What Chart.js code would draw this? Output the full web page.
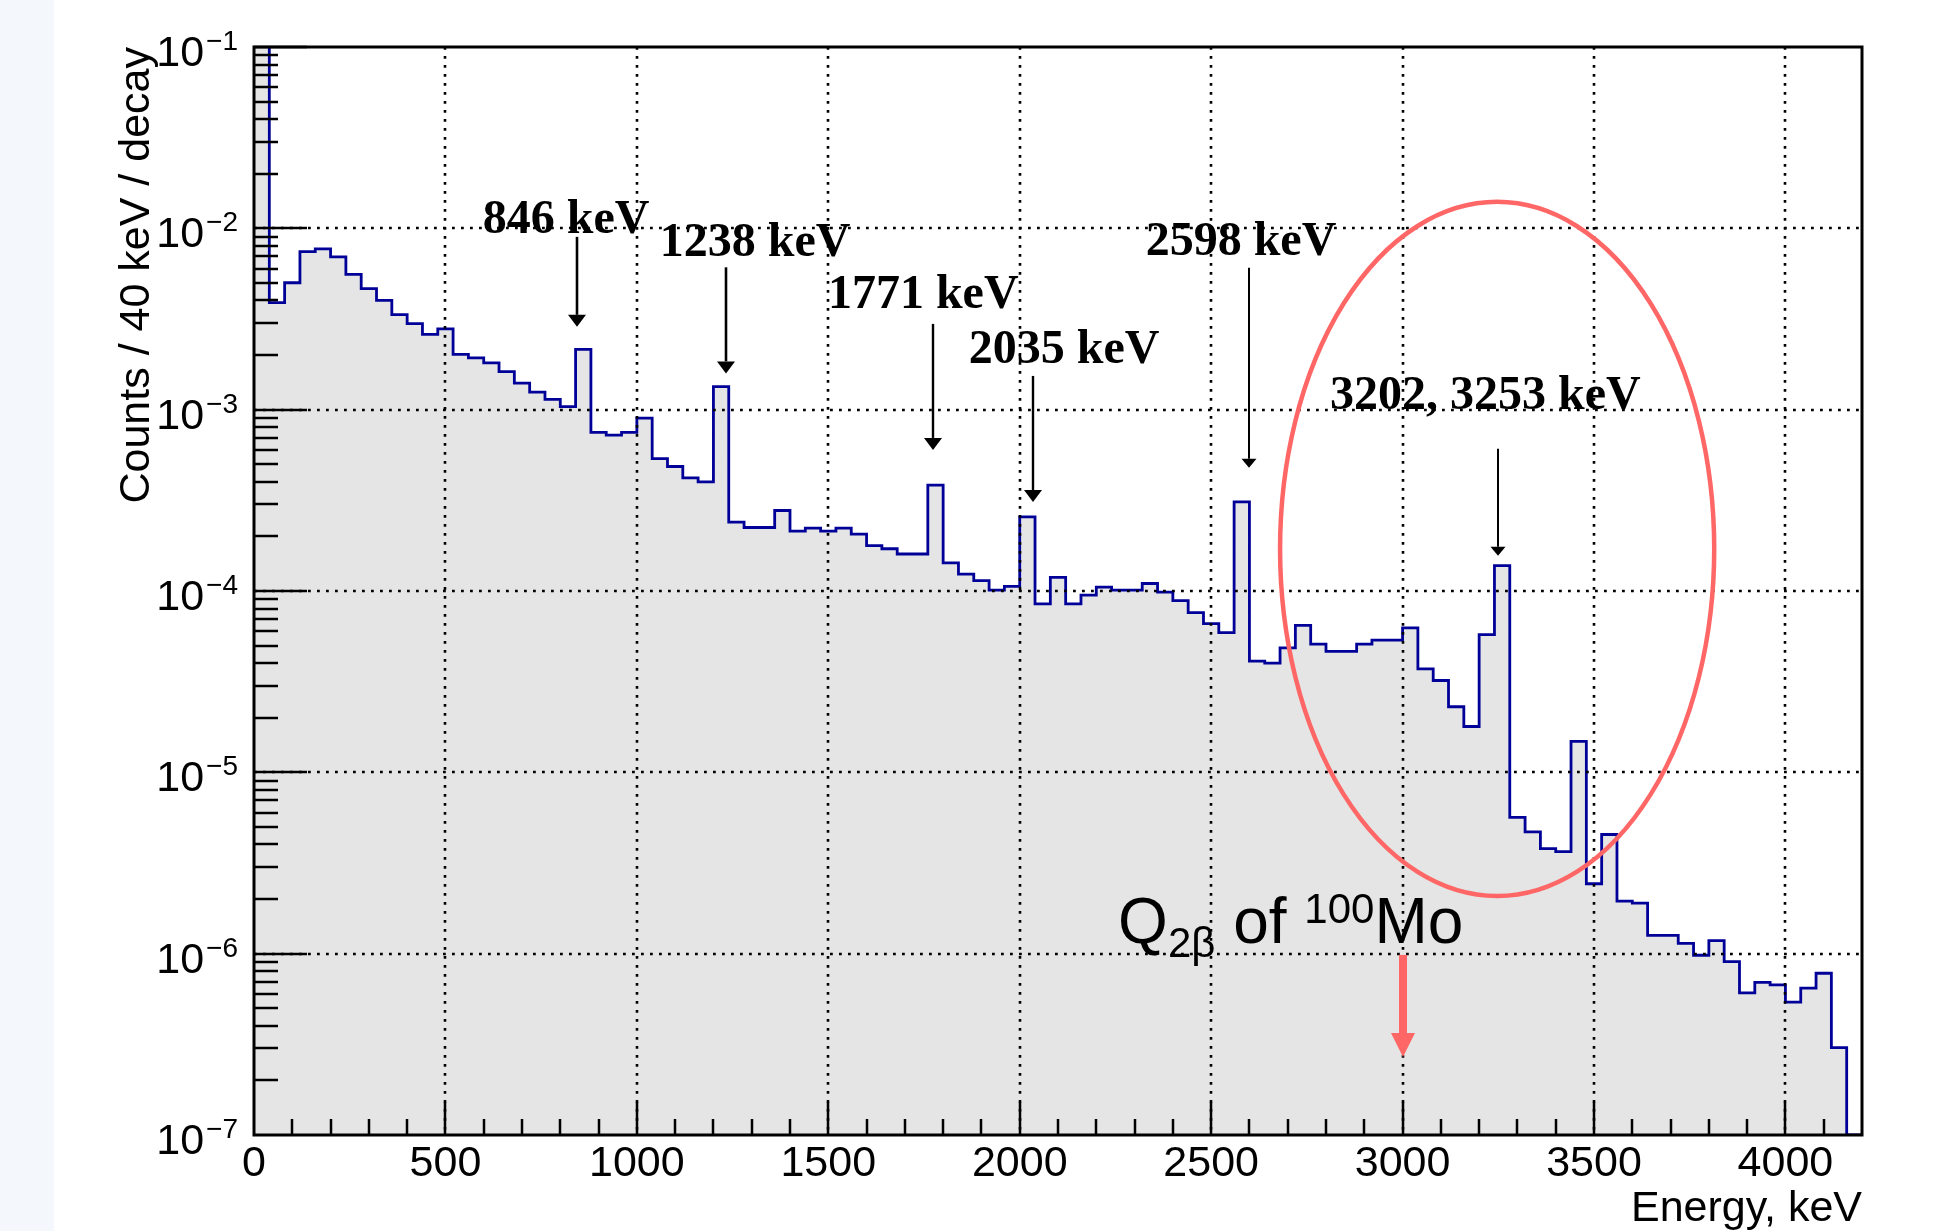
<!DOCTYPE html>
<html>
<head>
<meta charset="utf-8">
<title>100Mo background spectrum</title>
<script src="https://cdn.jsdelivr.net/npm/chart.js@4/dist/chart.umd.min.js"></script>
<style>
  html, body { margin: 0; padding: 0; }
  body {
    width: 1943px;
    height: 1231px;
    overflow: hidden;
    background: linear-gradient(to right, #f4f7fb 0, #f4f7fb 54px, #ffffff 54px);
  }
</style>
</head>
<body>
<canvas id="spectrumChart" width="1943" height="1231"></canvas>
<script>
// ==========================
// Spectrum data (counts / 40 keV / decay)
// ==========================

const binWidth = 40;

// one value per 40 keV bin, starting at 0 keV
const counts = [
    0.15,
    3.89e-3, 5.01e-3, 7.44e-3, 7.70e-3, 6.96e-3, 5.57e-3, 4.65e-3, 4.01e-3, 3.34e-3, 2.98e-3,
    2.60e-3, 2.79e-3, 2.02e-3, 1.93e-3, 1.81e-3, 1.62e-3, 1.40e-3, 1.25e-3, 1.14e-3, 1.04e-3,
    2.15e-3, 7.49e-4, 7.24e-4, 7.49e-4, 8.98e-4, 5.37e-4, 4.86e-4, 4.21e-4, 4.00e-4, 1.34e-3,
    2.40e-4, 2.24e-4, 2.24e-4, 2.78e-4, 2.14e-4, 2.22e-4, 2.14e-4, 2.22e-4, 2.06e-4, 1.78e-4,
    1.71e-4, 1.60e-4, 1.60e-4, 3.84e-4, 1.43e-4, 1.24e-4, 1.14e-4, 1.01e-4, 1.06e-4, 2.56e-4,
    8.49e-5, 1.19e-4, 8.49e-5, 9.48e-5, 1.05e-4, 1.01e-4, 1.01e-4, 1.10e-4, 9.87e-5, 8.85e-5,
    7.60e-5, 6.60e-5, 5.90e-5, 3.10e-4, 4.10e-5, 4.00e-5, 4.86e-5, 6.47e-5, 5.09e-5, 4.65e-5,
    4.65e-5, 5.09e-5, 5.36e-5, 5.36e-5, 6.26e-5, 3.72e-5, 3.21e-5, 2.30e-5, 1.79e-5, 5.75e-5,
    1.38e-4, 5.65e-6, 4.70e-6, 3.80e-6, 3.65e-6, 1.48e-5, 2.43e-6, 4.54e-6, 1.95e-6, 1.90e-6,
    1.26e-6, 1.26e-6, 1.14e-6, 9.80e-7, 1.18e-6, 9.05e-7, 6.08e-7, 6.95e-7, 6.73e-7, 5.41e-7,
    6.45e-7, 7.80e-7, 3.03e-7, 0
];

// axis ticks
const xTickValues = [0, 500, 1000, 1500, 2000, 2500, 3000, 3500, 4000];
const yDecades = [-7, -6, -5, -4, -3, -2, -1];

// gamma line annotations
const peakLabels = ["846 keV", "1238 keV", "1771 keV", "2035 keV", "2598 keV", "3202, 3253 keV"];
const peakEnergies = [844, 1233, 1774, 2035, 2598, 3249];

// ==========================
// Annotation placement (keV, log10 of counts)
// ==========================

const labelPos = [
    { x: 815, y: -2.025, from: -2.047, to: -2.543, head: [18, 12], lw: 2.6 },
    { x: 1309, y: -2.150, from: -2.215, to: -2.800, head: [18, 12], lw: 2.6 },
    { x: 1748, y: -2.439, from: -2.527, to: -3.222, head: [18, 12], lw: 2.4 },
    { x: 2116, y: -2.742, from: -2.814, to: -3.509, head: [18, 12], lw: 2.4 },
    { x: 2578, y: -2.146, from: -2.218, to: -3.321, head: [15, 9], lw: 2 },
    { x: 3216, y: -2.996, from: -3.216, to: -3.806, head: [15, 9], lw: 2 }
];

const circleBox = { left: 2680, right: 3814, top: -1.854, bottom: -5.682 };
const qText = { x: 2257, y: -5.941 };
const qArrow = { x: 3000, from: -6.007, to: -6.570 };

const sans = "'Liberation Sans', Arial, Helvetica, sans-serif";
const serif = "'Liberation Serif', 'Times New Roman', serif";
const red = "#ff6666";
const yMin = 1e-7;
const yMax = 1e-1;
const xMax = 4200;

const points = counts.map((c, k) => ({ x: k * binWidth, y: c > 0 ? c : yMin }));
points.push({ x: counts.length * binWidth, y: yMin });

// ==========================
// ROOT-like frame, ticks, grid and annotations
// ==========================

const rootStyle = {

    id: "rootStyle",

    afterDatasetsDraw(chart) {

        const { ctx, chartArea: a, scales: { x, y } } = chart;

        ctx.save();

        // dotted grid on top of the fill
        ctx.strokeStyle = "#000";
        ctx.lineWidth = 2.6;
        ctx.setLineDash([2.8, 6.2]);
        ctx.beginPath();
        xTickValues.forEach(v => {
            if (v <= 0 || v >= xMax) return;
            const px = Math.round(x.getPixelForValue(v));
            ctx.moveTo(px, a.top);
            ctx.lineTo(px, a.bottom);
        });
        yDecades.forEach(e => {
            const v = Math.pow(10, e);
            if (v <= yMin || v >= yMax) return;
            const py = Math.round(y.getPixelForValue(v));
            ctx.moveTo(a.left, py);
            ctx.lineTo(a.right, py);
        });
        ctx.stroke();

        // frame
        ctx.setLineDash([]);
        ctx.lineWidth = 3;
        ctx.strokeRect(a.left, a.top, a.right - a.left, a.bottom - a.top);

        // tick marks, inside the frame
        ctx.lineWidth = 2.5;
        ctx.beginPath();
        for (let v = 100; v < xMax; v += 100) {
            const px = Math.round(x.getPixelForValue(v));
            const len = v % 500 === 0 ? 33 : 16;
            ctx.moveTo(px, a.bottom);
            ctx.lineTo(px, a.bottom - len);
        }
        yDecades.forEach(e => {
            for (let m = 1; m <= 9; m++) {
                const v = m * Math.pow(10, e);
                if (v <= yMin * 1.0001 || v > yMax * 1.0001) continue;
                const py = Math.round(y.getPixelForValue(v));
                const len = m === 1 ? 53 : 24;
                ctx.moveTo(a.left, py);
                ctx.lineTo(a.left + len, py);
            }
        });
        ctx.stroke();

        // y tick labels 10^n
        ctx.fillStyle = "#000";
        ctx.textBaseline = "alphabetic";
        const right = a.left - 16;
        yDecades.forEach(e => {
            const py = y.getPixelForValue(Math.pow(10, e));
            const exp = "\u2212" + Math.abs(e);
            ctx.font = "28px " + sans;
            const ew = ctx.measureText(exp).width;
            ctx.textAlign = "left";
            ctx.fillText(exp, right - ew, py + 3);
            ctx.font = "43px " + sans;
            ctx.textAlign = "right";
            ctx.fillText("10", right - ew - 2, py + 19);
        });

        ctx.restore();

    },

    afterDraw(chart) {

        const { ctx, scales: { x, y } } = chart;
        const ly = v => y.getPixelForValue(Math.pow(10, v));

        ctx.save();
        ctx.fillStyle = "#000";
        ctx.strokeStyle = "#000";

        // peak labels with arrows
        peakLabels.forEach((text, i) => {
            const p = labelPos[i];
            ctx.font = "bold 48px " + serif;
            ctx.textAlign = "center";
            ctx.textBaseline = "alphabetic";
            ctx.fillText(text, x.getPixelForValue(p.x), ly(p.y));

            const ax = Math.round(x.getPixelForValue(peakEnergies[i]));
            const top = ly(p.from);
            const tip = ly(p.to);
            const [hw, hh] = p.head;
            ctx.lineWidth = p.lw;
            ctx.beginPath();
            ctx.moveTo(ax, top);
            ctx.lineTo(ax, tip - hh);
            ctx.stroke();
            ctx.beginPath();
            ctx.moveTo(ax - hw / 2, tip - hh);
            ctx.lineTo(ax + hw / 2, tip - hh);
            ctx.lineTo(ax, tip);
            ctx.closePath();
            ctx.fill();
        });

        // red ellipse round the high energy region
        const l = x.getPixelForValue(circleBox.left);
        const r = x.getPixelForValue(circleBox.right);
        const t = ly(circleBox.top);
        const b = ly(circleBox.bottom);
        ctx.strokeStyle = red;
        ctx.lineWidth = 4.5;
        ctx.beginPath();
        ctx.ellipse((l + r) / 2, (t + b) / 2, (r - l) / 2, (b - t) / 2, 0, 0, Math.PI * 2);
        ctx.stroke();

        // Q value text
        let qx = x.getPixelForValue(qText.x);
        const qy = ly(qText.y);
        ctx.fillStyle = "#000";
        ctx.textAlign = "left";
        ctx.font = "64px " + sans;
        ctx.fillText("Q", qx, qy);
        qx += ctx.measureText("Q").width;
        ctx.font = "42px " + sans;
        ctx.fillText("2\u03b2", qx, qy + 14);
        qx += ctx.measureText("2\u03b2").width;
        ctx.font = "64px " + sans;
        ctx.fillText(" of ", qx, qy);
        qx += ctx.measureText(" of ").width;
        ctx.font = "42px " + sans;
        ctx.fillText("100", qx, qy - 20);
        qx += ctx.measureText("100").width;
        ctx.font = "64px " + sans;
        ctx.fillText("Mo", qx, qy);

        // red Q arrow
        const rx = Math.round(x.getPixelForValue(qArrow.x));
        const rTop = ly(qArrow.from);
        const rTip = ly(qArrow.to);
        ctx.fillStyle = red;
        ctx.fillRect(rx - 4, rTop, 8, rTip - rTop - 23);
        ctx.beginPath();
        ctx.moveTo(rx - 12, rTip - 24);
        ctx.lineTo(rx + 12, rTip - 24);
        ctx.lineTo(rx, rTip);
        ctx.closePath();
        ctx.fill();

        ctx.restore();

    }

};

// ==========================
// Spectrum Chart
// ==========================

const chartCanvas = document.getElementById("spectrumChart");

if (chartCanvas) {

    Chart.defaults.color = "#000";

    new Chart(chartCanvas, {

        type: "line",

        data: {

            datasets: [

                {

                    label: "Counts / 40 keV / decay",

                    data: points,

                    stepped: true,

                    borderColor: "#000099",

                    borderWidth: 2.8,

                    backgroundColor: "#e5e5e5",

                    fill: "start",

                    pointRadius: 0,

                    tension: 0

                }

            ]

        },

        options: {

            responsive: false,

            animation: false,

            devicePixelRatio: 1,

            layout: {

                padding: { top: 47, right: 81, bottom: 0, left: 0 }

            },

            plugins: {

                legend: { display: false },

                tooltip: { enabled: false }

            },

            scales: {

                x: {

                    type: "linear",

                    min: 0,

                    max: xMax,

                    grid: { display: false, drawTicks: false },

                    border: { display: false },

                    afterBuildTicks: scale => {
                        scale.ticks = xTickValues.map(v => ({ value: v }));
                    },

                    afterFit: scale => {
                        scale.height = 96;
                    },

                    ticks: {

                        color: "#000",

                        padding: 8,

                        maxRotation: 0,

                        autoSkip: false,

                        callback: value => String(value),

                        font: { size: 43, family: sans, lineHeight: 1 }

                    },

                    title: {

                        display: true,

                        text: "Energy, keV",

                        align: "end",

                        color: "#000",

                        padding: 0,

                        font: { size: 43, family: sans, lineHeight: 1 }

                    }

                },

                y: {

                    type: "logarithmic",

                    min: yMin,

                    max: yMax,

                    grid: { display: false, drawTicks: false },

                    border: { display: false },

                    ticks: { display: false },

                    afterFit: scale => {
                        scale.width = 254;
                    },

                    title: {

                        display: true,

                        text: "Counts / 40 keV / decay",

                        align: "end",

                        color: "#000",

                        padding: { top: 116, bottom: 0 },

                        font: { size: 43, family: sans, lineHeight: 1 }

                    }

                }

            }

        },

        plugins: [rootStyle]

    });

}
</script>
</body>
</html>
